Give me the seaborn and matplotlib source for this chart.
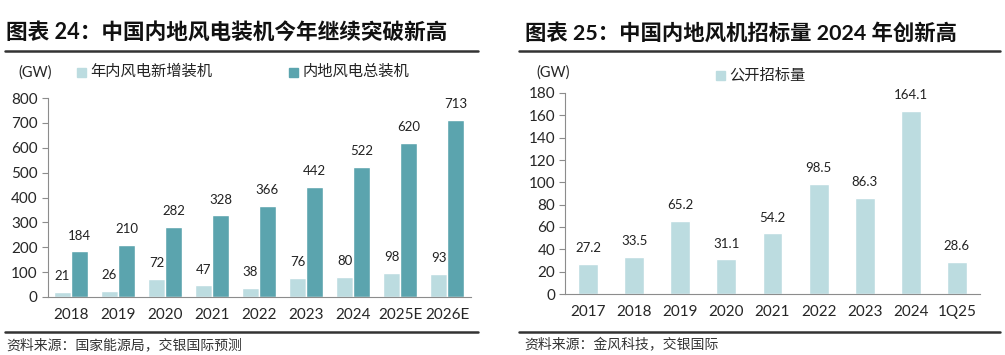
import matplotlib
matplotlib.use("Agg")
import matplotlib.pyplot as plt
import pandas as pd
import seaborn as sns
from matplotlib.lines import Line2D
from matplotlib.patches import Rectangle

# left panel data
years_left = ["2018", "2019", "2020", "2021", "2022", "2023", "2024", "2025E", "2026E"]
new_install = [21, 26, 72, 47, 38, 76, 80, 98, 93]
total_install = [184, 210, 282, 328, 366, 442, 522, 620, 713]
series_left = ["年内风电新增装机", "内地风电总装机"]

# right panel data
years_right = ["2017", "2018", "2019", "2020", "2021", "2022", "2023", "2024", "1Q25"]
tender_volume = [27.2, 33.5, 65.2, 31.1, 54.2, 98.5, 86.3, 164.1, 28.6]
series_right = "公开招标量"

LIGHT = "#BCDCE0"
DARK = "#5BA4AE"
GRID = "#8C8C8C"

sns.set_theme(style="white")
plt.rcParams["font.family"] = ["Lato", "Noto Sans CJK SC", "DejaVu Sans"]

W, H = 1005, 355
fig = plt.figure(figsize=(W / 100, H / 100), dpi=100)


def px_axes(x0, y_top, x1, y_bot):
    return fig.add_axes([x0 / W, 1 - y_bot / H, (x1 - x0) / W, (y_bot - y_top) / H])


def style_axis(ax, n, ymax, step):
    ax.set_xlim(-0.5, n - 0.5)
    ax.set_ylim(0, ymax)
    ax.set_yticks(range(0, ymax + 1, step))
    ax.set_xticks([i - 0.5 for i in range(n + 1)], minor=True)
    ax.tick_params(axis="x", which="major", length=0, labelsize=11, pad=8)
    ax.tick_params(axis="x", which="minor", length=5, color=GRID, width=0.8, direction="out")
    ax.tick_params(axis="y", length=4, color=GRID, width=0.8, labelsize=11, pad=3, left=True)
    for s in ["top", "right"]:
        ax.spines[s].set_visible(False)
    for s in ["left", "bottom"]:
        ax.spines[s].set_color(GRID)
        ax.spines[s].set_linewidth(0.8)
    ax.set_xlabel("")
    ax.set_ylabel("")
    ax.grid(False)


# ---- left panel ----
df_left = pd.DataFrame({
    "year": years_left * 2,
    "value": new_install + total_install,
    "series": [series_left[0]] * len(years_left) + [series_left[1]] * len(years_left),
})
ax1 = px_axes(47.5, 98, 470.5, 297)
sns.barplot(data=df_left, x="year", y="value", hue="series", order=years_left,
            hue_order=series_left, palette=[LIGHT, DARK], saturation=1,
            width=0.72, gap=0, legend=False, ax=ax1)
style_axis(ax1, len(years_left), 800, 100)
for cont in ax1.containers:
    ax1.bar_label(cont, labels=[f"{v:.0f}" for v in cont.datavalues],
                  padding=7, fontsize=9.5, color="#222222")

# ---- right panel ----
df_right = pd.DataFrame({"year": years_right, "value": tender_volume})
ax2 = px_axes(565, 93, 980, 294)
sns.barplot(data=df_right, x="year", y="value", order=years_right, color=LIGHT,
            saturation=1, width=0.43, ax=ax2)
style_axis(ax2, len(years_right), 180, 20)
for cont in ax2.containers:
    ax2.bar_label(cont, labels=[f"{v:.1f}" for v in cont.datavalues],
                  padding=7, fontsize=9.5, color="#222222")


# ---- titles, legends, rules, sources ----
def fx(x):
    return x / W


def fy(y):
    return 1 - y / H


fig.text(fx(6), fy(33), "图表 24：中国内地风电装机今年继续突破新高", fontsize=15.6,
         fontweight="bold", va="center", ha="left", color="#111111")
fig.text(fx(525), fy(33), "图表 25：中国内地风机招标量 2024 年创新高", fontsize=15.4,
         fontweight="bold", va="center", ha="left", color="#111111")

for x0, x1 in [(5, 478), (519, 1000)]:
    fig.add_artist(Line2D([fx(x0), fx(x1)], [fy(51), fy(51)], color="#333333", lw=1.8))
    fig.add_artist(Line2D([fx(x0), fx(x1)], [fy(332), fy(332)], color="#333333", lw=1.8))

fig.text(fx(18), fy(73), "(GW)", fontsize=10.5, va="center", ha="left")
fig.text(fx(536), fy(73), "(GW)", fontsize=10.5, va="center", ha="left")


def legend_item(x, y, color, label):
    fig.add_artist(Rectangle((fx(x), fy(y + 5)), 9 / W, 9 / H, color=color,
                             transform=fig.transFigure))
    fig.text(fx(x + 13), fy(y), label, fontsize=11, va="center", ha="left", color="#222222")


legend_item(77, 72, LIGHT, series_left[0])
legend_item(289, 72, DARK, series_left[1])
legend_item(716, 75, LIGHT, series_right)

fig.text(fx(6), fy(344), "资料来源：国家能源局，交银国际预测", fontsize=10,
         style="italic", va="center", ha="left", color="#333333")
fig.text(fx(524), fy(344), "资料来源：金风科技，交银国际", fontsize=10,
         style="italic", va="center", ha="left", color="#333333")

fig.savefig("out.png", dpi=100)
